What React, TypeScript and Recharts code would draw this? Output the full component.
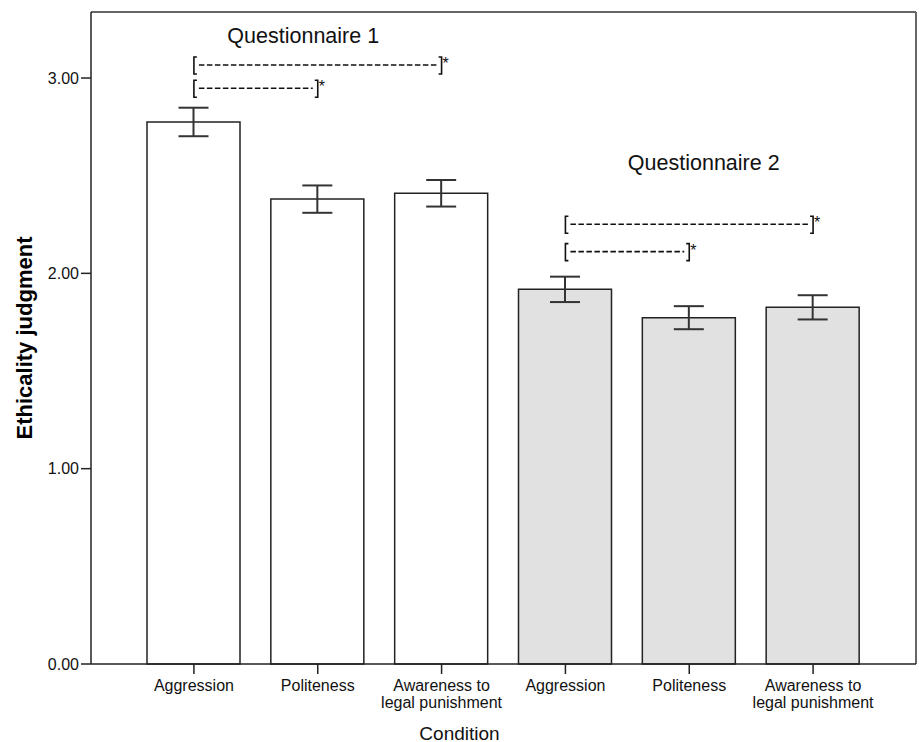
import {
  BarChart,
  Bar,
  Cell,
  ErrorBar,
  XAxis,
  YAxis,
  CartesianGrid,
  ReferenceLine,
  ReferenceDot,
} from "recharts";

const conditionIds = ["q1-agg", "q1-pol", "q1-law", "q2-agg", "q2-pol", "q2-law"];
const conditionLabels = [
  "Aggression",
  "Politeness",
  "Awareness to\nlegal punishment",
  "Aggression",
  "Politeness",
  "Awareness to\nlegal punishment",
];
const questionnaire = [1, 1, 1, 2, 2, 2];
const means = [2.775, 2.38, 2.41, 1.918, 1.773, 1.826];
const errors = [0.073, 0.07, 0.068, 0.065, 0.059, 0.062];
const yTicks = [0, 1, 2, 3];

// significance brackets: [from, to, height]
const brackets: [string, string, number][] = [
  ["q1-agg", "q1-law", 3.067],
  ["q1-agg", "q1-pol", 2.948],
  ["q2-agg", "q2-law", 2.251],
  ["q2-agg", "q2-pol", 2.111],
];
const groupTitles: [string, string, number, number][] = [
  ["Questionnaire 1", "q1-pol", 3.213, -14.5],
  ["Questionnaire 2", "q2-pol", 2.565, 14.5],
];

const FONT = "'Liberation Sans', Arial, sans-serif";
const INK = "#222";
const FILLS: Record<number, string> = { 1: "#ffffff", 2: "#e1e1e1" };

const data = conditionIds.map((id, i) => ({
  id,
  mean: means[i],
  err: errors[i],
  group: questionnaire[i],
}));

const labelById: Record<string, string> = Object.fromEntries(
  conditionIds.map((id, i) => [id, conditionLabels[i]])
);

function XTick({ x, y, payload }: any) {
  const lines = (labelById[payload.value] ?? "").split("\n");
  return (
    <text x={x} y={y} textAnchor="middle" fontSize={16} fill="#111" fontFamily={FONT}>
      {lines.map((l, i) => (
        <tspan key={i} x={x} dy={i === 0 ? 15 : 16.5}>
          {l}
        </tspan>
      ))}
    </text>
  );
}

function BracketLabel({ viewBox }: any) {
  const { x, y, width } = viewBox;
  const x2 = x + width;
  return (
    <g stroke="#111" strokeWidth={1.6} fill="none">
      <path d={`M${x + 3},${y - 8} H${x} V${y + 9} H${x + 3}`} />
      <line x1={x + 5} x2={x2 - 5} y1={y} y2={y} strokeDasharray="5.5 2.5" />
      <path d={`M${x2 - 3},${y - 8} H${x2} V${y + 9} H${x2 - 3}`} />
      <text x={x2 + 1} y={y + 4} fontSize={16} fill="#111" stroke="none" fontFamily={FONT}>
        *
      </text>
    </g>
  );
}

export default function App() {
  return (
    <div style={{ position: "absolute", left: 0, top: 0, background: "#fff" }}>
      <BarChart
        width={919}
        height={742}
        data={data}
        margin={{ top: 12, right: 3, left: 0, bottom: 0 }}
      >
        <CartesianGrid
          stroke="#666"
          strokeWidth={2}
          horizontalCoordinatesGenerator={({ offset }: any) => [offset.top]}
          verticalCoordinatesGenerator={({ offset }: any) => [offset.left + offset.width]}
        />
        <XAxis
          dataKey="id"
          height={78}
          padding={{ left: 41, right: 41 }}
          tickSize={10}
          tick={<XTick />}
          interval={0}
          axisLine={{ stroke: INK, strokeWidth: 1.5 }}
          tickLine={{ stroke: INK, strokeWidth: 1.5 }}
          label={({ viewBox }: any) => (
            <text
              x={919 / 2}
              y={viewBox.y + 69}
              textAnchor="middle"
              dominantBaseline="central"
              fontSize={19}
              fill="#111"
              fontFamily={FONT}
            >
              Condition
            </text>
          )}
        />
        <YAxis
          width={91}
          domain={[0, 3.338]}
          ticks={yTicks}
          tickSize={10}
          tickFormatter={(v: number) => v.toFixed(2)}
          tick={{ fontSize: 16, fill: "#111", fontFamily: FONT }}
          axisLine={{ stroke: INK, strokeWidth: 1.5 }}
          tickLine={{ stroke: INK, strokeWidth: 1.5 }}
          label={({ viewBox }: any) => {
            const cy = viewBox.y + viewBox.height / 2;
            return (
              <text
                x={24}
                y={cy}
                transform={`rotate(-90, 24, ${cy})`}
                textAnchor="middle"
                dominantBaseline="central"
                fontSize={22}
                fontWeight="bold"
                fill="#000"
                fontFamily={FONT}
              >
                Ethicality judgment
              </text>
            );
          }}
        />
        <Bar dataKey="mean" barSize={93} stroke={INK} strokeWidth={1.5} isAnimationActive={false}>
          {data.map((d) => (
            <Cell key={d.id} fill={FILLS[d.group]} />
          ))}
          <ErrorBar
            dataKey="err"
            width={15}
            stroke="#333"
            strokeWidth={2}
            direction="y"
            isAnimationActive={false}
          />
        </Bar>
        {brackets.map(([a, b, v], i) => (
          <ReferenceLine
            key={i}
            segment={[
              { x: a, y: v },
              { x: b, y: v },
            ]}
            stroke="none"
            label={<BracketLabel />}
          />
        ))}
        {groupTitles.map(([t, cat, v, dx]) => (
          <ReferenceDot
            key={t}
            x={cat}
            y={v}
            r={0}
            fill="none"
            stroke="none"
            label={({ viewBox }: any) => (
              <text
                x={viewBox.x + viewBox.width / 2 + dx}
                y={viewBox.y + viewBox.height / 2}
                textAnchor="middle"
                dominantBaseline="central"
                fontSize={21.5}
                fill="#111"
                fontFamily={FONT}
              >
                {t}
              </text>
            )}
          />
        ))}
      </BarChart>
    </div>
  );
}
